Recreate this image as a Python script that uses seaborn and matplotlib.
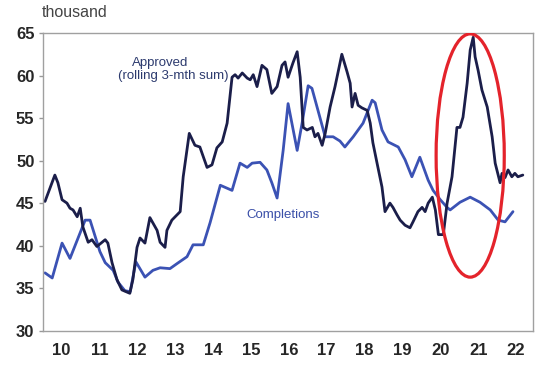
import numpy as np
import pandas as pd
import matplotlib.pyplot as plt
import seaborn as sns
from matplotlib.patches import Ellipse

# approvals, rolling 3-month sum (thousand)
approved_t = [2010.06, 2010.32, 2010.40, 2010.51, 2010.64, 2010.72, 2010.80, 2010.91, 2010.99,
              2011.06, 2011.20, 2011.30, 2011.43, 2011.65, 2011.72, 2011.83, 2011.96,
              2012.09, 2012.30, 2012.38, 2012.49, 2012.57, 2012.70, 2012.83,
              2013.02, 2013.10, 2013.23, 2013.28, 2013.41, 2013.63, 2013.71, 2013.87,
              2014.02, 2014.15, 2014.34, 2014.47, 2014.60, 2014.74, 2014.87,
              2015.00, 2015.08, 2015.16, 2015.27, 2015.40, 2015.48, 2015.56, 2015.66, 2015.79, 2015.92,
              2016.05, 2016.19, 2016.32, 2016.40, 2016.48, 2016.61, 2016.72, 2016.80, 2016.88, 2016.98,
              2017.12, 2017.19, 2017.27, 2017.38, 2017.46, 2017.59, 2017.72, 2017.90,
              2018.04, 2018.12, 2018.17, 2018.25, 2018.33, 2018.43, 2018.57, 2018.65, 2018.72, 2018.83, 2018.96,
              2019.04, 2019.17, 2019.25, 2019.36, 2019.44, 2019.57, 2019.70, 2019.78, 2019.91,
              2020.02, 2020.10, 2020.18, 2020.29, 2020.37, 2020.45, 2020.58, 2020.68, 2020.81, 2020.94,
              2021.02, 2021.10, 2021.21, 2021.29, 2021.37, 2021.42, 2021.50, 2021.60, 2021.74, 2021.87, 2021.95,
              2022.08, 2022.13, 2022.21, 2022.29, 2022.39, 2022.47, 2022.55, 2022.68]
approved_v = [45.2, 48.3, 47.4, 45.4, 45.0, 44.4, 44.2, 43.4, 44.4,
              42.2, 40.4, 40.7, 39.9, 40.7, 40.3, 38.0, 36.0,
              34.8, 34.4, 36.0, 39.8, 40.9, 40.3, 43.3,
              41.8, 40.4, 39.8, 41.8, 43.0, 44.0, 48.1, 53.2,
              51.8, 51.6, 49.2, 49.5, 51.5, 52.2, 54.4,
              59.8, 60.1, 59.7, 60.3, 59.7, 59.5, 60.1, 58.7, 61.2, 60.7,
              57.9, 58.7, 61.2, 61.6, 59.8, 61.5, 62.8, 59.8, 53.9, 53.6,
              53.9, 52.8, 53.2, 51.8, 53.2, 56.3, 58.7, 62.5,
              60.4, 59.1, 56.3, 57.9, 56.5, 56.2, 55.9, 54.4, 52.1, 49.7, 46.9,
              44.0, 45.0, 44.5, 43.6, 43.0, 42.4, 42.1, 42.8, 44.0,
              44.5, 44.0, 45.0, 45.7, 44.2, 41.3, 41.3, 45.0, 48.1, 53.9,
              53.9, 55.1, 59.1, 63.0, 64.5, 62.2, 60.6, 58.3, 56.3, 52.8, 49.7,
              47.4, 48.5, 48.0, 48.9, 48.1, 48.5, 48.1, 48.3]

# completions (thousand)
completions_t = [2010.06, 2010.25, 2010.51, 2010.72, 2011.12, 2011.25, 2011.51, 2011.65, 2011.86, 2011.99,
                 2012.17, 2012.31, 2012.46, 2012.70, 2012.91, 2013.10, 2013.36, 2013.55, 2013.81, 2013.97,
                 2014.24, 2014.42, 2014.69, 2015.00, 2015.21, 2015.40, 2015.53, 2015.74, 2015.92,
                 2016.05, 2016.19, 2016.35, 2016.48, 2016.72, 2016.85, 2017.01, 2017.11, 2017.27, 2017.46,
                 2017.67, 2017.85, 2017.98, 2018.20, 2018.46, 2018.70, 2018.78, 2018.96, 2019.12, 2019.39,
                 2019.57, 2019.75, 2019.96, 2020.18, 2020.31, 2020.50, 2020.68, 2020.76, 2021.02, 2021.29,
                 2021.55, 2021.82, 2022.03, 2022.21, 2022.42]
completions_v = [36.8, 36.2, 40.3, 38.5, 43.0, 43.0, 39.3, 38.0, 37.1, 35.7,
                 34.7, 34.6, 38.1, 36.3, 37.1, 37.4, 37.3, 37.9, 38.7, 40.1,
                 40.1, 42.7, 47.1, 46.5, 49.7, 49.2, 49.7, 49.8, 48.9,
                 47.4, 45.6, 51.2, 56.7, 51.2, 54.4, 58.8, 58.5, 55.9, 52.8,
                 52.8, 52.3, 51.6, 52.8, 54.4, 57.1, 56.8, 53.6, 52.2, 51.6,
                 50.1, 48.1, 50.4, 47.7, 46.5, 45.4, 44.5, 44.2, 45.1, 45.7,
                 45.1, 44.2, 43.0, 42.8, 44.0]

years = list(range(2010, 2023))
year_labels = [str(y)[2:] for y in years]

approved = pd.DataFrame({"t": approved_t, "v": approved_v})
completions = pd.DataFrame({"t": completions_t, "v": completions_v})

sns.set_style("white")
plt.rcParams["font.family"] = ["Liberation Sans", "DejaVu Sans"]

fig = plt.figure(figsize=(5.48, 3.66), dpi=100)
ax = fig.add_axes([0.078, 0.0964, 0.8947, 0.8134])

sns.lineplot(data=completions, x="t", y="v", color="#3b52b4", linewidth=2.0, ax=ax)
sns.lineplot(data=approved, x="t", y="v", color="#1b1e4a", linewidth=2.0, ax=ax)

ax.add_patch(Ellipse((2021.29, 50.6), 1.80, 28.6, fill=False,
                     edgecolor="#e4232b", linewidth=2.3, zorder=5))

ax.set_xlim(2010, 2022.95)
ax.set_ylim(30, 65)
ax.set_xlabel("")
ax.set_ylabel("")

# year boundaries get ticks, labels sit in the middle of each year
ax.set_xticks(years[1:])
ax.set_xticklabels([])
ax.set_xticks([y + 0.5 for y in years], minor=True)
ax.set_xticklabels(year_labels, minor=True, fontsize=12, fontweight="bold")
ax.tick_params(axis="x", which="major", direction="in", length=4, color="#999999", width=1)
ax.tick_params(axis="x", which="minor", length=0, pad=9)

ax.set_yticks(range(30, 70, 5))
ax.set_yticklabels([str(v) for v in range(30, 70, 5)], fontsize=12, fontweight="bold")
ax.tick_params(axis="y", direction="out", length=3, color="#999999", width=1, pad=3, left=True)

for side in ["left", "right", "top", "bottom"]:
    ax.spines[side].set_visible(True)
    ax.spines[side].set_color("#a0a0a0")
    ax.spines[side].set_linewidth(1.0)

ax.text(2013.10, 61.5, "Approved", color="#2c3a6e", fontsize=9.5, ha="center", va="center")
ax.text(2013.44, 59.9, "(rolling 3-mth sum)", color="#2c3a6e", fontsize=9.5, ha="center", va="center")
ax.text(2016.35, 43.6, "Completions", color="#3a4fa8", fontsize=9.5, ha="center", va="center")

fig.text(0.077, 0.966, "thousand", color="#444444", fontsize=11.5, ha="left", va="center")

fig.savefig("out.png", dpi=100)
